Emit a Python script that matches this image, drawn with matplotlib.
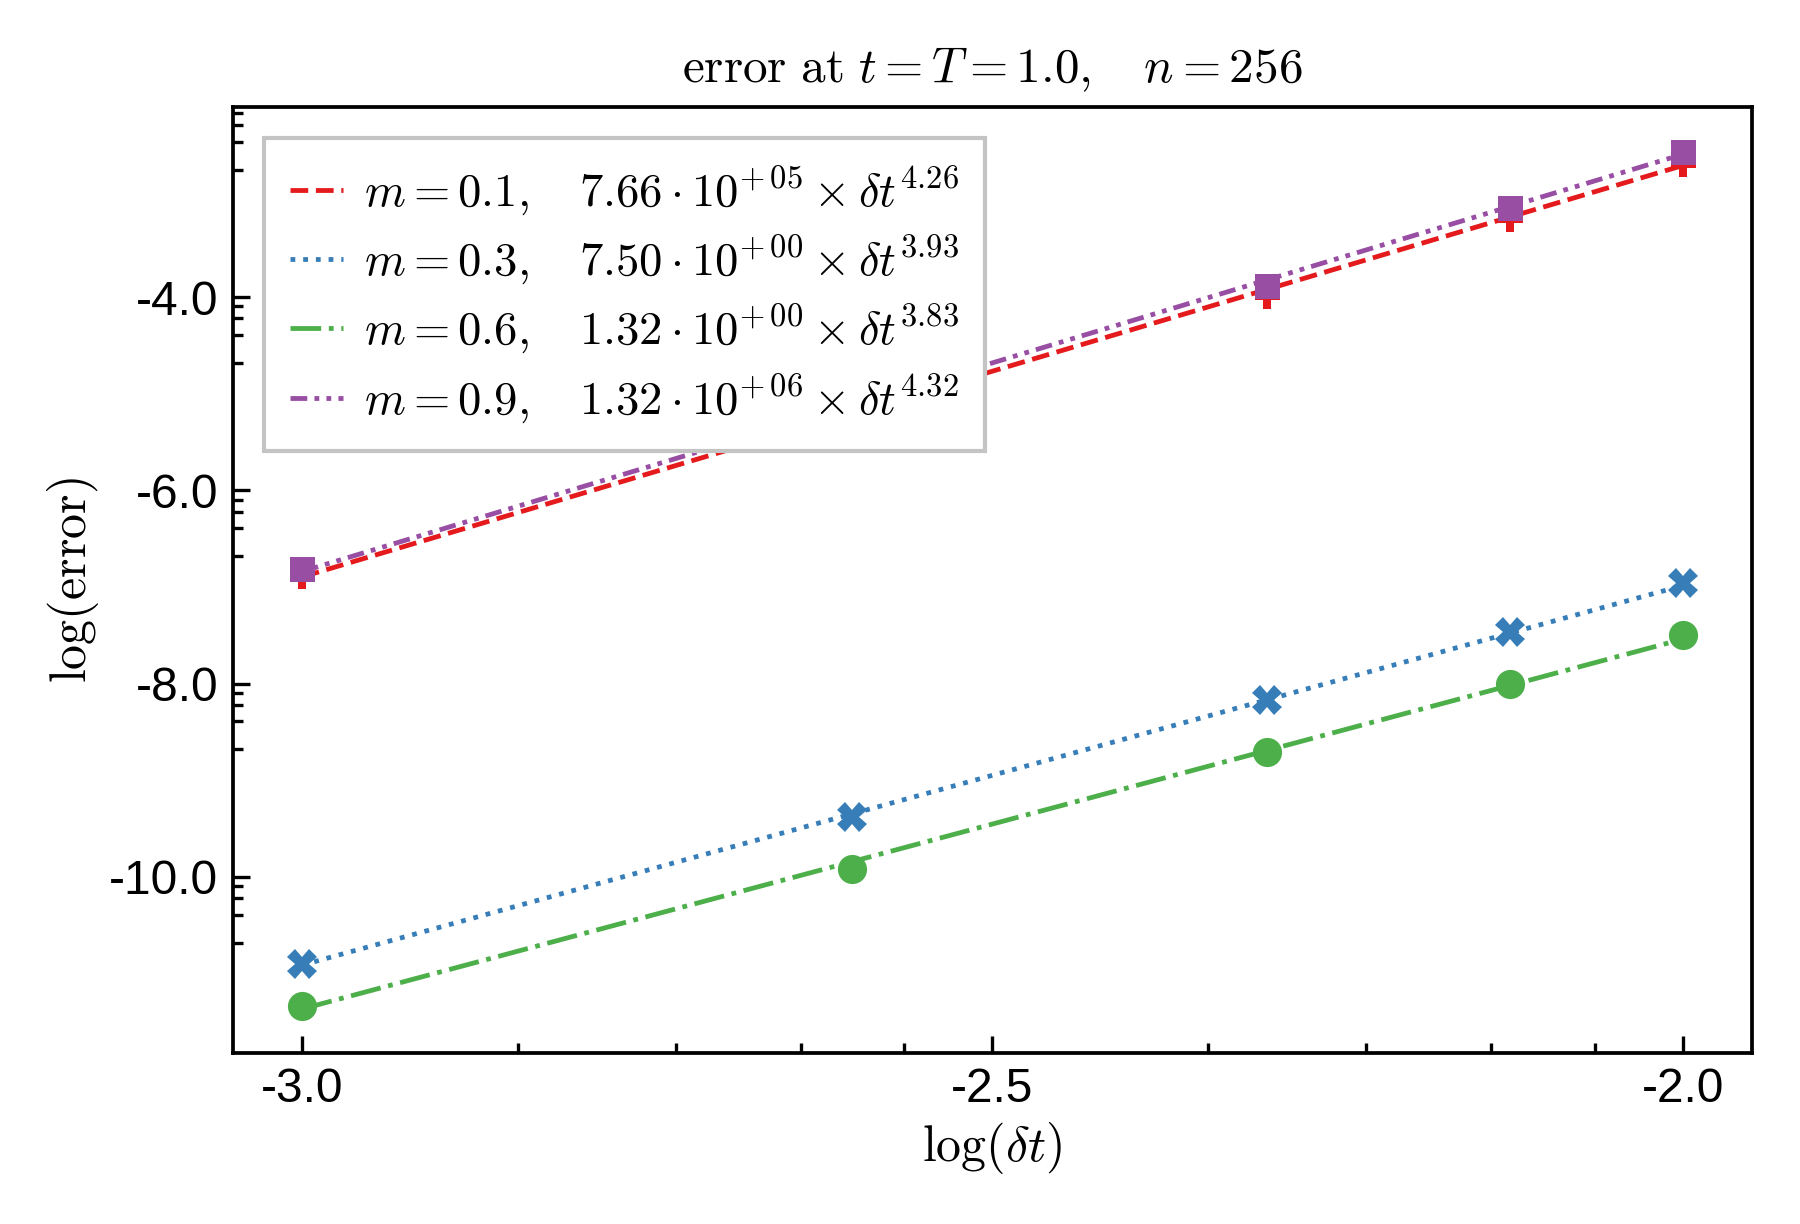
import numpy as np
import matplotlib
matplotlib.use("Agg")
import matplotlib.pyplot as plt

# log10(dt) of the runs and log10(error) at t=T=1.0, n=256
log_dt = [-3.0, -2.602, -2.301, -2.125, -2.0]
err_m01 = [-6.89, -5.22, -3.99, -3.19, -2.62]
err_m03 = [-10.90, -9.38, -8.17, -7.47, -6.96]
err_m06 = [-11.34, -9.92, -8.71, -8.00, -7.50]
err_m09 = [-6.81, -5.12, -3.885, -3.077, -2.493]

m_values = [0.1, 0.3, 0.6, 0.9]
fit_coef = [7.66e5, 7.50, 1.32, 1.32e6]
fit_pow = [4.26, 3.93, 3.83, 4.32]

colors = ["#e41a1c", "#377eb8", "#4daf4a", "#984ea3"]
markers = ["P", "X", "o", "s"]
msizes = [6, 7, 7, 6]
styles = ["--", ":", "-.", (0, (3.5, 1.5, 1, 1.5, 1, 1.5))]

plt.rcParams["mathtext.fontset"] = "cm"
plt.rcParams["font.family"] = ["Liberation Sans", "DejaVu Sans"]
plt.rcParams["axes.unicode_minus"] = False

fig = plt.figure(figsize=(6, 4.08), dpi=300)
ax = fig.add_axes([0.1294, 0.1401, 0.8439, 0.7725])

x = np.array(log_dt)
for i, err in enumerate([err_m01, err_m03, err_m06, err_m09]):
    c, p = fit_coef[i], fit_pow[i]
    ex = int(np.floor(np.log10(c)))
    mant = c / 10 ** ex
    label = (r"$m=%.1f,\quad %.2f\cdot10^{%s\,%02d}\times\delta t^{%.2f}$"
             % (m_values[i], mant, "+" if ex >= 0 else "-", abs(ex), p))
    ax.plot(x, np.log10(c) + p * x, linestyle=styles[i], color=colors[i],
            lw=1.15, label=label)
    ax.plot(x, err, linestyle="none", marker=markers[i], color=colors[i],
            markersize=msizes[i], markeredgewidth=0)

# major ticks + minor ticks splitting each major interval linearly (in error)
xmaj = [-3.5, -3.0, -2.5, -2.0, -1.5]
ymaj = [-12, -10, -8, -6, -4, -2]
def minor_pos(maj):
    out = []
    for a, b in zip(maj[:-1], maj[1:]):
        for k in range(1, 5):
            out.append(np.log10(10 ** a + k * (10 ** b - 10 ** a) / 5))
    return out

ax.set_xticks(xmaj)
ax.set_yticks(ymaj)
ax.set_xticks(minor_pos(xmaj), minor=True)
ax.set_yticks(minor_pos(ymaj), minor=True)
ax.set_xlim(-3.05, -1.95)
ax.set_ylim(-11.82, -2.03)
ax.xaxis.set_major_formatter(matplotlib.ticker.FormatStrFormatter("%.1f"))
ax.yaxis.set_major_formatter(matplotlib.ticker.FormatStrFormatter("%.1f"))
ax.tick_params(which="both", direction="in", labelsize=11.5, top=False, right=False)
ax.tick_params(which="major", length=4, width=0.8)
ax.tick_params(which="minor", length=2.5, width=0.8)
for s in ax.spines.values():
    s.set_linewidth(0.9)

ax.set_xlabel(r"$\log(\delta t)$", fontsize=12, labelpad=2)
ax.set_ylabel(r"$\log(\mathrm{error})$", fontsize=12, labelpad=2)
ax.set_title(r"$\mathrm{error\ at}\ t=T=1.0,\quad n=256$", fontsize=11.8)

leg = ax.legend(loc="upper left", bbox_to_anchor=(0.0204, 0.9669),
                borderaxespad=0, fontsize=11.2, fancybox=False, framealpha=1,
                edgecolor="#c4c4c4", handlelength=1.15, handletextpad=0.45,
                labelspacing=0.33, borderpad=0.55)
leg.get_frame().set_linewidth(1.0)

fig.savefig("out.png", dpi=300)
